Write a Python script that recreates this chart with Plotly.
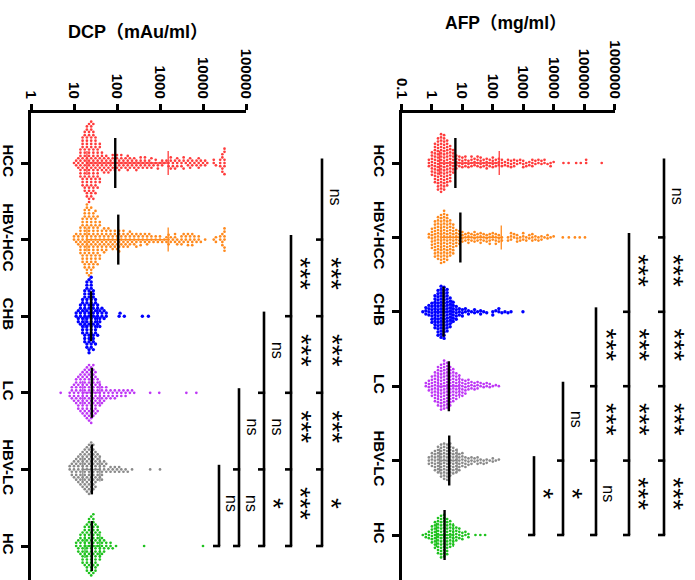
import math
import plotly.graph_objects as go

W, H = 695, 580

group_names = ["HCC", "HBV-HCC", "CHB", "LC", "HBV-LC", "HC"]
group_colors = ["#FF3C3C", "#FF8A1E", "#0000FF", "#BE37F5", "#8A8A8A", "#1FC21F"]

# ---------------- DCP (mAu/ml) : counts per 0.05-decade bin ----------------
dcp_step = 0.05
dcp_hcc_start = 1.00
dcp_hcc_counts = [1, 2, 3, 8, 10, 12, 14, 15, 15, 14,
                  11, 9, 7, 5, 4, 4, 4, 3, 4, 3,
                  4, 3, 4, 2, 3, 4, 3, 2, 3, 3,
                  2, 3, 2, 3, 2, 2, 3, 1, 2, 2,
                  1, 2, 1, 1, 2, 3, 2, 2, 3, 1,
                  2, 3, 1, 2, 3, 2, 1, 2, 3, 2,
                  1, 2, 1, 0, 0, 2, 1, 0, 3, 4, 6]
dcp_hcc_extra = []
dcp_hbvhcc_start = 1.00
dcp_hbvhcc_counts = [2, 2, 3, 7, 9, 12, 13, 13, 12, 11,
                     10, 9, 7, 5, 5, 5, 4, 4, 4, 4,
                     4, 5, 3, 4, 3, 3, 4, 2, 3, 3,
                     2, 3, 2, 2, 3, 2, 2, 1, 2, 1,
                     2, 1, 1, 2, 3, 2, 1, 3, 2, 1,
                     3, 2, 2, 3, 2, 3, 2, 1, 2, 1,
                     0, 1, 0, 0, 0, 1, 2, 0, 2, 3, 6]
dcp_hbvhcc_extra = []
dcp_chb_start = 1.05
dcp_chb_counts = [2, 3, 5, 8, 11, 13, 14, 14, 12, 9, 6, 4, 3, 2, 2]
dcp_chb_extra = [112, 118, 148, 389, 537]
dcp_lc_start = 0.90
dcp_lc_counts = [2, 3, 4, 6, 7, 8, 9, 10, 11, 12,
                 12, 11, 9, 7, 5, 4, 3, 3, 2, 2,
                 2, 2, 2, 1, 2, 1, 2, 1, 1, 1, 1]
dcp_lc_extra = [4.9, 590, 960, 4100, 7000]
dcp_hbvlc_start = 0.90
dcp_hbvlc_counts = [2, 3, 4, 5, 6, 7, 8, 9, 10, 11,
                    11, 10, 8, 6, 5, 4, 3, 2, 1, 2,
                    1, 2, 1, 2, 1, 1, 1, 1, 0, 1]
dcp_hbvlc_extra = [590, 1000]
dcp_hc_start = 1.05
dcp_hc_counts = [2, 3, 5, 7, 8, 10, 11, 12, 12, 10, 8, 6, 4, 3, 2, 1, 2, 1]
dcp_hc_extra = [95, 427, 10000]

dcp_medians = [91, 107, 25, 26, 26, 26]
dcp_q1 = [20, 20, 18, 16, 16, 18]
dcp_q3 = [1550, 1550, 35, 40, 40, 40]
dcp_tickvals = [1, 10, 100, 1000, 10000, 100000]
dcp_ticktext = ["1", "10", "100", "1000", "10000", "100000"]

# ---------------- AFP (mg/ml) : counts per 0.1-decade bin ----------------
afp_step = 0.1
afp_hcc_start = -0.1
afp_hcc_counts = [3, 8, 13, 17, 19, 18, 15, 12, 8, 5,
                  4, 4, 4, 3, 4, 3, 4, 4, 3, 4,
                  3, 4, 3, 3, 3, 2, 3, 3, 3, 2,
                  2, 3, 2, 2, 3, 2, 2, 2, 2, 1,
                  2, 1]
afp_hcc_extra = [21000, 31000, 55000, 78000, 117000, 117000, 380000]
afp_hbvhcc_start = -0.1
afp_hbvhcc_counts = [2, 7, 12, 14, 16, 17, 15, 12, 10, 6,
                     5, 4, 3, 4, 3, 4, 3, 4, 3, 3,
                     4, 3, 4, 3, 2, 0, 2, 3, 2, 3,
                     2, 3, 2, 2, 3, 2, 2, 2, 1, 2,
                     1, 1]
afp_hbvhcc_extra = [20000, 31600, 50000, 72000, 107000]
afp_chb_start = -0.3
afp_chb_counts = [1, 3, 4, 7, 11, 15, 17, 17, 14, 10,
                  7, 5, 3, 3, 2, 2, 1, 2, 1, 2,
                  1, 1, 0, 2, 1, 2, 1, 1, 1, 1]
afp_chb_extra = [980]
afp_lc_start = -0.2
afp_lc_counts = [2, 4, 7, 10, 13, 15, 16, 15, 13, 11,
                 9, 7, 6, 5, 4, 3, 3, 3, 2, 2,
                 2, 2, 1, 1, 1]
afp_lc_extra = []
afp_hbvlc_start = -0.1
afp_hbvlc_counts = [3, 5, 7, 9, 11, 12, 12, 11, 9, 8,
                    6, 5, 4, 3, 3, 2, 3, 2, 2, 2,
                    1, 2, 1, 1]
afp_hbvlc_extra = []
afp_hc_start = -0.3
afp_hc_counts = [1, 2, 3, 6, 9, 12, 14, 14, 12, 9, 7, 5, 4, 3, 2, 2]
afp_hc_extra = [27, 39, 56]

afp_medians = [5.9, 8.6, 2.4, 3.6, 3.7, 2.6]
afp_q1 = [1.8, 2.0, 1.3, 1.6, 1.8, 1.4]
afp_q3 = [163, 190, 4.5, 8, 6.7, 5]
afp_tickvals = [0.1, 1, 10, 100, 1000, 10000, 100000, 1000000]
afp_ticktext = ["0.1", "1", "10", "100", "1000", "10000", "100000", "1000000"]

# significance labels (per bracket column, between consecutive groups)
dcp_sig = [["ns"], ["ns", "ns"], ["ns", "ns", "*"], ["***", "***", "***", "***"],
           ["ns", "***", "***", "***", "*"]]
afp_sig = [["*"], ["ns", "*"], ["***", "***", "ns"], ["***", "***", "***", "***"],
           ["ns", "***", "***", "***", "***"]]

# ---------------- layout geometry (pixels) ----------------
FONT = "Liberation Sans, Arial, Helvetica, sans-serif"
TOP = 113
panels = [
    dict(name="dcp", x0=31, x1=246, lrange=[0, 5], cat0=163, catstep=76.6,
         starts=[dcp_hcc_start, dcp_hbvhcc_start, dcp_chb_start, dcp_lc_start, dcp_hbvlc_start, dcp_hc_start],
         counts=[dcp_hcc_counts, dcp_hbvhcc_counts, dcp_chb_counts, dcp_lc_counts, dcp_hbvlc_counts, dcp_hc_counts],
         extras=[dcp_hcc_extra, dcp_hbvhcc_extra, dcp_chb_extra, dcp_lc_extra, dcp_hbvlc_extra, dcp_hc_extra],
         step=dcp_step, med=dcp_medians, q1=dcp_q1, q3=dcp_q3,
         tv=dcp_tickvals, tt=dcp_ticktext, sig=dcp_sig,
         bx=[219, 239, 264, 291, 322]),
    dict(name="afp", x0=401.5, x1=614.5, lrange=[-1, 6], cat0=163, catstep=74.4,
         starts=[afp_hcc_start, afp_hbvhcc_start, afp_chb_start, afp_lc_start, afp_hbvlc_start, afp_hc_start],
         counts=[afp_hcc_counts, afp_hbvhcc_counts, afp_chb_counts, afp_lc_counts, afp_hbvlc_counts, afp_hc_counts],
         extras=[afp_hcc_extra, afp_hbvhcc_extra, afp_chb_extra, afp_lc_extra, afp_hbvlc_extra, afp_hc_extra],
         step=afp_step, med=afp_medians, q1=afp_q1, q3=afp_q3,
         tv=afp_tickvals, tt=afp_ticktext, sig=afp_sig,
         bx=[534, 563, 596, 629, 664]),
]

D = 3.2      # swarm collision distance (px)
MS = 2.7     # marker size (px)
MS_BIG = 3.4  # CHB blob looks solid


def swarm(logs, ppd, d):
    order = sorted(range(len(logs)), key=lambda i: logs[i])
    placed = []
    offs = [0.0] * len(logs)
    flip = 1
    lo = 0
    for i in order:
        x = logs[i] * ppd
        while lo < len(placed) and x - placed[lo][0] >= d:
            lo += 1
        near = placed[lo:]
        cands = [0.0]
        for px, py in near:
            h = math.sqrt(max(d * d - (x - px) ** 2, 0.0))
            cands += [py + h, py - h]
        best = 0.0
        for c in sorted(cands, key=lambda c: (abs(c), -c * flip)):
            if all((x - px) ** 2 + (c - py) ** 2 >= d * d - 1e-6 for px, py in near):
                best = c
                break
        offs[i] = best
        placed.append((x, best))
        flip = -flip
    return offs


fig = go.Figure()
shapes = []
annotations = []

for pi, P in enumerate(panels):
    xa = "x" if pi == 0 else "x2"
    ya = "y" if pi == 0 else "y2"
    ppd = (P["x1"] - P["x0"]) / (P["lrange"][1] - P["lrange"][0])
    cs = P["catstep"]
    ytop = (TOP - P["cat0"]) / cs
    ybot = (H - P["cat0"]) / cs
    P["yrange"] = [ybot, ytop]
    for g in range(6):
        logs = []
        for i, n in enumerate(P["counts"][g]):
            logs += [P["starts"][g] + i * P["step"]] * n
        logs += [math.log10(v) for v in P["extras"][g]]
        offs = swarm(logs, ppd, D)
        fig.add_trace(go.Scatter(
            x=[10 ** l for l in logs], y=[g + o / cs for o in offs],
            mode="markers", xaxis=xa, yaxis=ya,
            marker=dict(size=MS_BIG if g == 2 else MS, color=group_colors[g], line=dict(width=0)),
            hoverinfo="skip", showlegend=False))
    # IQR bars (coloured) and medians (black)
    for g in range(6):
        cap = 12 / cs
        fig.add_trace(go.Scatter(
            x=[P["q1"][g], P["q3"][g], None, P["q1"][g], P["q1"][g], None, P["q3"][g], P["q3"][g]],
            y=[g, g, None, g - cap, g + cap, None, g - cap, g + cap],
            mode="lines", xaxis=xa, yaxis=ya,
            line=dict(color=group_colors[g], width=1.3),
            hoverinfo="skip", showlegend=False))
    mx, my = [], []
    for g in range(6):
        half = 25 / cs
        mx += [P["med"][g], P["med"][g], None]
        my += [g - half, g + half, None]
    fig.add_trace(go.Scatter(x=mx, y=my, mode="lines", xaxis=xa, yaxis=ya,
                             line=dict(color="black", width=2.4),
                             hoverinfo="skip", showlegend=False))
    # brackets
    for bi, bxp in enumerate(P["bx"]):
        start = 4 - bi
        xp = bxp / W
        tick = 6 / W
        shapes.append(dict(type="line", xref="paper", yref=ya, x0=xp, x1=xp,
                           y0=start - 0.06, y1=5, line=dict(color="black", width=2.6)))
        for k in range(start + 1, 6):
            shapes.append(dict(type="line", xref="paper", yref=ya, x0=xp - tick, x1=xp + 1.2 / W,
                               y0=k, y1=k, line=dict(color="black", width=2.6)))
        for j, lab in enumerate(P["sig"][bi]):
            ymid = start + j + 0.5 - 0.06
            star = lab.startswith("*")
            annotations.append(dict(
                xref="paper", yref=ya, x=(bxp + (10 if star else 13)) / W, y=ymid,
                text=lab, showarrow=False, textangle=90,
                font=dict(family=FONT, size=28 if star else 16, color="black"),
                xanchor="center", yanchor="middle"))

annotations.append(dict(xref="paper", yref="paper", x=138 / W, y=1 - 32 / H,
                        text="<b>DCP</b><b>（mAu/ml）</b>", showarrow=False,
                        font=dict(family=FONT + ", Noto Sans CJK SC", size=18, color="black"),
                        xanchor="center", yanchor="middle"))
annotations.append(dict(xref="paper", yref="paper", x=506 / W, y=1 - 23 / H,
                        text="<b>AFP（mg/ml）</b>", showarrow=False,
                        font=dict(family=FONT + ", Noto Sans CJK SC", size=17.5, color="black"),
                        xanchor="center", yanchor="middle"))


def xaxis_cfg(P, anchor):
    return dict(type="log", range=P["lrange"], domain=[P["x0"] / W, P["x1"] / W],
                anchor=anchor, side="top", showline=True, linecolor="black", linewidth=3,
                ticks="outside", ticklen=6, tickwidth=3, tickcolor="black",
                tickvals=P["tv"], ticktext=["<b>%s</b>" % t for t in P["tt"]],
                tickangle=90, tickfont=dict(family=FONT, size=15, color="black"),
                showgrid=False, zeroline=False, fixedrange=True)


def yaxis_cfg(P, anchor):
    return dict(range=P["yrange"], domain=[0, 1 - TOP / H], anchor=anchor,
                showline=True, linecolor="black", linewidth=3,
                ticks="outside", ticklen=7, tickwidth=3, tickcolor="black",
                tickvals=list(range(6)), ticktext=["<b>%s</b>" % n for n in group_names],
                tickangle=90, tickfont=dict(family=FONT, size=15, color="black"),
                showgrid=False, zeroline=False, fixedrange=True)


fig.update_layout(
    width=W, height=H,
    margin=dict(l=0, r=0, t=0, b=0, autoexpand=False),
    paper_bgcolor="white", plot_bgcolor="white",
    xaxis=xaxis_cfg(panels[0], "y"), yaxis=yaxis_cfg(panels[0], "x"),
    xaxis2=xaxis_cfg(panels[1], "y2"), yaxis2=yaxis_cfg(panels[1], "x2"),
    shapes=shapes, annotations=annotations, showlegend=False,
)

fig.write_html("out.html", config={"displayModeBar": False},
               post_script="document.body.style.margin='0px';document.body.style.overflow='hidden';")
